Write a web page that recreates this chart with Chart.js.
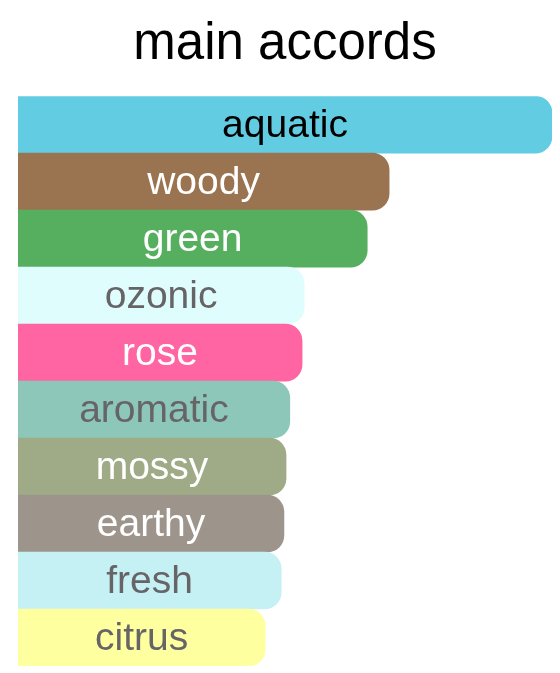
<!DOCTYPE html>
<html>
<head>
<meta charset="utf-8">
<script src="https://cdn.jsdelivr.net/npm/chart.js@4"></script>
<style>
  html, body { margin: 0; padding: 0; background: #ffffff; }
  #wrap { width: 560px; height: 673px; }
</style>
</head>
<body>
<div id="wrap"><canvas id="myChart"></canvas></div>
<script>
const accords = ['aquatic', 'woody', 'green', 'ozonic', 'rose', 'aromatic', 'mossy', 'earthy', 'fresh', 'citrus'];
const strength = [100, 69.5, 65.4, 53.6, 53.2, 50.9, 50.2, 49.8, 49.3, 46.3];
const barColors = ['#62cce3', '#9a7350', '#56af5f', '#dffdfd', '#ff64a3', '#8cc7ba', '#9fab87', '#9d958c', '#c5f0f4', '#feff9f'];
const textColors = ['#000000', '#ffffff', '#ffffff', '#676467', '#ffffff', '#676467', '#ffffff', '#ffffff', '#676467', '#676467'];

const ctx = document.getElementById('myChart');

// writes the accord name in the middle of each bar
const barLabels = {
    id: 'barLabels',
    afterDatasetsDraw(chart) {
        const c = chart.ctx;
        const meta = chart.getDatasetMeta(0);
        c.save();
        c.font = '39px "Liberation Sans", Arial, sans-serif';
        c.textAlign = 'center';
        c.textBaseline = 'middle';
        meta.data.forEach((bar, i) => {
            c.fillStyle = textColors[i];
            c.fillText(accords[i], (bar.base + bar.x) / 2, bar.y + 2);
        });
        c.restore();
    }
};

new Chart(ctx, {
    type: 'bar',
    data: {
        labels: accords,
        datasets: [{
            data: strength,
            backgroundColor: barColors,
            borderWidth: 0,
            borderRadius: 17,
            borderSkipped: 'start',
            categoryPercentage: 1,
            barPercentage: 1
        }]
    },
    options: {
        indexAxis: 'y',
        responsive: true,
        maintainAspectRatio: false,
        animation: false,
        layout: {
            padding: { left: 18, right: 8, top: 0, bottom: 7 }
        },
        scales: {
            x: { display: false, min: 0, max: 100 },
            y: { display: false }
        },
        plugins: {
            legend: { display: false },
            tooltip: { enabled: false },
            title: {
                display: true,
                text: 'main accords',
                color: '#000000',
                font: { family: '"Liberation Sans", Arial, sans-serif', size: 51, weight: 'normal', lineHeight: 1.2 },
                padding: { top: 14, bottom: 21 }
            }
        }
    },
    plugins: [barLabels]
});
</script>
</body>
</html>
